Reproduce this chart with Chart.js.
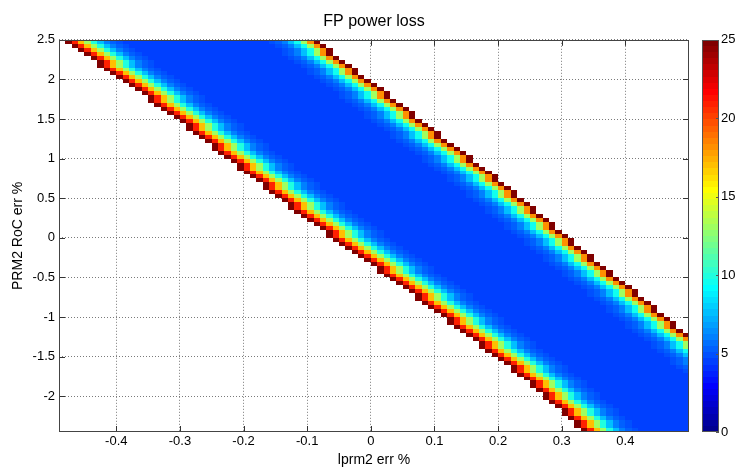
<!DOCTYPE html>
<html>
<head>
<meta charset="utf-8">
<title>FP power loss</title>
<script src="https://cdn.jsdelivr.net/npm/chart.js@4.4.1/dist/chart.umd.min.js"></script>
<style>
  html, body { margin: 0; padding: 0; background: #fff; }
  #wrap { width: 737px; height: 473px; }
</style>
</head>
<body>
<div id="wrap"><canvas id="lossChart" width="737" height="473"></canvas></div>
<script>
// pcolor grid: lprm2 err -0.49..0.5 (step 0.01), PRM2 RoC err -2.45..2.5 (step 0.05)
const xGrid = Array.from({length: 100}, (_, i) => +(-0.49 + 0.01 * i).toFixed(2));
const yGrid = Array.from({length: 100}, (_, j) => +(-2.45 + 0.05 * j).toFixed(2));

// per row (bottom to top): first and last filled column of the stable band
const lowEdge = [
  82, 81, 81, 80, 79, 79, 78, 77, 76, 76, 75, 74, 74,
  73, 72, 71, 71, 70, 69, 68, 67, 66, 66, 65, 64, 63, 62, 61, 61, 60, 59, 58, 57, 56, 56, 55, 54, 53, 52, 51, 50,
  50, 49, 48, 47, 46, 45, 44, 43, 42, 42, 41, 40, 39, 38,
  37, 36, 36, 35, 34, 33, 32, 32, 31, 30, 29, 28, 28, 27, 26, 25, 24, 24, 23, 22, 21, 20, 20, 19, 18,
  17, 16, 15, 14, 14, 13, 12, 11, 10, 9,
  8, 7, 6, 6, 5, 4, 3, 2, 1
];
const highEdge = [
  116, 116, 115, 114, 113, 113, 112, 111, 110, 110, 109, 108, 107, 106, 106, 105, 104, 103, 103, 102, 101, 100, 100, 99,
  98, 97, 96, 96, 95, 94, 93, 93, 92, 91, 90, 90, 89, 88, 87, 86, 86, 85, 84, 83, 83, 82, 81, 80, 80, 79, 78,
  77, 77, 76, 75, 74, 74, 73, 72, 71, 71, 70,
  69, 68, 68, 67, 66, 65, 64, 64, 63, 62, 61, 60, 59, 59, 58, 57, 56, 55, 55, 54, 53, 52, 51, 51, 50, 49, 48, 47,
  46, 46, 45, 44, 43, 42, 42, 41, 40
];

// loss (%) by cell distance from each band edge, and inside the band
const lowProfile = [26, 21, 17, 13, 10, 7.5, 6, 5.2, 4.8];
const highProfile = [26, 18, 13, 9.5, 7.5, 6, 5.2, 4.8];
const interiorLoss = 4.5;

const xTicks = [-0.4, -0.3, -0.2, -0.1, 0, 0.1, 0.2, 0.3, 0.4];
const yTicks = [-2, -1.5, -1, -0.5, 0, 0.5, 1, 1.5, 2, 2.5];
const cbTicks = [0, 5, 10, 15, 20, 25];
const cMax = 25;

const FONT = '"Liberation Sans", Arial, Helvetica, sans-serif';

// MATLAB jet(64)
function jetColor(v) {
  let k = Math.floor(v / cMax * 64) + 1;
  k = Math.max(1, Math.min(64, k));
  let r = 0, g = 0, b = 0;
  if (k >= 25 && k <= 40) r = (k - 24) / 16; else if (k > 40 && k <= 55) r = 1; else if (k > 55) r = (72 - k) / 16;
  if (k >= 9 && k <= 24) g = (k - 8) / 16; else if (k > 24 && k <= 39) g = 1; else if (k > 39 && k <= 55) g = (56 - k) / 16;
  if (k <= 8) b = (k + 8) / 16; else if (k <= 23) b = 1; else if (k <= 39) b = (40 - k) / 16;
  return `rgb(${Math.round(r * 255)},${Math.round(g * 255)},${Math.round(b * 255)})`;
}

// build the cells
const cells = [];
for (let j = 0; j < 99; j++) {
  const lo = lowEdge[j], hi = highEdge[j];
  for (let i = lo; i <= Math.min(hi, 98); i++) {
    const a = lowProfile[i - lo] ?? interiorLoss;
    const c = highProfile[hi - i] ?? interiorLoss;
    cells.push({
      x: (xGrid[i] + xGrid[i + 1]) / 2,
      y: (yGrid[j] + yGrid[j + 1]) / 2,
      x0: xGrid[i], x1: xGrid[i + 1],
      y0: yGrid[j], y1: yGrid[j + 1],
      v: Math.max(a, c, interiorLoss)
    });
  }
}

const heatmap = {
  id: 'heatmap',
  beforeDatasetsDraw(chart) {
    const {ctx, chartArea: area, scales: {x, y}} = chart;
    ctx.save();
    // inward ticks on all four sides
    ctx.strokeStyle = '#333';
    ctx.lineWidth = 1;
    ctx.beginPath();
    xTicks.forEach(t => {
      const px = Math.round(x.getPixelForValue(t)) + 0.5;
      ctx.moveTo(px, area.bottom); ctx.lineTo(px, area.bottom - 6);
      ctx.moveTo(px, area.top); ctx.lineTo(px, area.top + 6);
    });
    yTicks.forEach(t => {
      const py = Math.round(y.getPixelForValue(t)) + 0.5;
      ctx.moveTo(area.left, py); ctx.lineTo(area.left + 6, py);
      ctx.moveTo(area.right, py); ctx.lineTo(area.right - 6, py);
    });
    ctx.stroke();

    chart.data.datasets[0].data.forEach(c => {
      const l = Math.round(x.getPixelForValue(c.x0));
      const r = Math.round(x.getPixelForValue(c.x1));
      const t = Math.round(y.getPixelForValue(c.y1));
      const b = Math.round(y.getPixelForValue(c.y0));
      ctx.fillStyle = jetColor(c.v);
      ctx.fillRect(l, t, r - l, b - t);
    });
    ctx.restore();
  },
  afterDatasetsDraw(chart) {
    const {ctx, chartArea: area, scales: {cb}} = chart;
    ctx.save();
    ctx.strokeStyle = '#444';
    ctx.lineWidth = 1;
    ctx.strokeRect(Math.round(area.left) + 0.5, Math.round(area.top) + 0.5,
      Math.round(area.right - area.left) - 1, Math.round(area.bottom - area.top) - 1);

    // colorbar
    const bx = Math.round(cb.left) + 13, bw = 17;
    for (let k = 0; k < 64; k++) {
      const v0 = k * cMax / 64, v1 = (k + 1) * cMax / 64;
      const t = Math.round(cb.getPixelForValue(v1));
      const b = Math.round(cb.getPixelForValue(v0));
      ctx.fillStyle = jetColor((v0 + v1) / 2);
      ctx.fillRect(bx, t, bw, b - t);
    }
    const top = Math.round(cb.getPixelForValue(cMax)), bot = Math.round(cb.getPixelForValue(0));
    ctx.strokeStyle = '#555';
    ctx.strokeRect(bx + 0.5, top + 0.5, bw - 1, bot - top - 1);
    ctx.beginPath();
    cbTicks.forEach(t => {
      const py = Math.round(cb.getPixelForValue(t)) + 0.5;
      ctx.moveTo(bx + bw, py); ctx.lineTo(bx + bw - 3, py);
    });
    ctx.stroke();
    ctx.restore();
  }
};

const setTicks = list => scale => { scale.ticks = list.map(v => ({value: v})); };

new Chart(document.getElementById('lossChart'), {
  type: 'scatter',
  data: {
    datasets: [{
      label: 'FP power loss',
      data: cells,
      pointRadius: 0,
      pointHoverRadius: 0
    }]
  },
  options: {
    responsive: false,
    animation: false,
    events: [],
    layout: { padding: 0 },
    plugins: {
      legend: { display: false },
      tooltip: { enabled: false },
      title: {
        display: true,
        text: 'FP power loss',
        fullSize: false,
        color: '#000',
        font: { family: FONT, size: 16, weight: 'normal' },
        padding: { top: 4, bottom: 9 }
      }
    },
    scales: {
      x: {
        type: 'linear',
        min: -0.49,
        max: 0.5,
        afterBuildTicks: setTicks(xTicks),
        afterFit: s => { s.height = 41; },
        grid: { color: '#7a7a7a', lineWidth: 1, drawTicks: false },
        border: { display: false, dash: [1, 2] },
        ticks: { color: '#000', padding: 2, font: { family: FONT, size: 13 }, callback: v => String(v) },
        title: { display: true, text: 'lprm2 err %', color: '#000', font: { family: FONT, size: 14 }, padding: { top: 0, bottom: 4 } }
      },
      y: {
        type: 'linear',
        min: -2.45,
        max: 2.5,
        afterBuildTicks: setTicks(yTicks),
        afterFit: s => { s.width = 59; },
        grid: { color: '#7a7a7a', lineWidth: 1, drawTicks: false },
        border: { display: false, dash: [1, 2] },
        ticks: { color: '#000', padding: 4, font: { family: FONT, size: 13 }, callback: v => String(v) },
        title: { display: true, text: 'PRM2 RoC err %', color: '#000', font: { family: FONT, size: 14 }, padding: { top: 10, bottom: 0 } }
      },
      cb: {
        type: 'linear',
        position: 'right',
        min: 0,
        max: cMax,
        afterBuildTicks: setTicks(cbTicks),
        afterFit: s => { s.width = 48; },
        grid: { display: false, drawTicks: false },
        border: { display: false },
        ticks: { color: '#000', padding: 32, font: { family: FONT, size: 13 } }
      }
    }
  },
  plugins: [heatmap]
});
</script>
</body>
</html>
